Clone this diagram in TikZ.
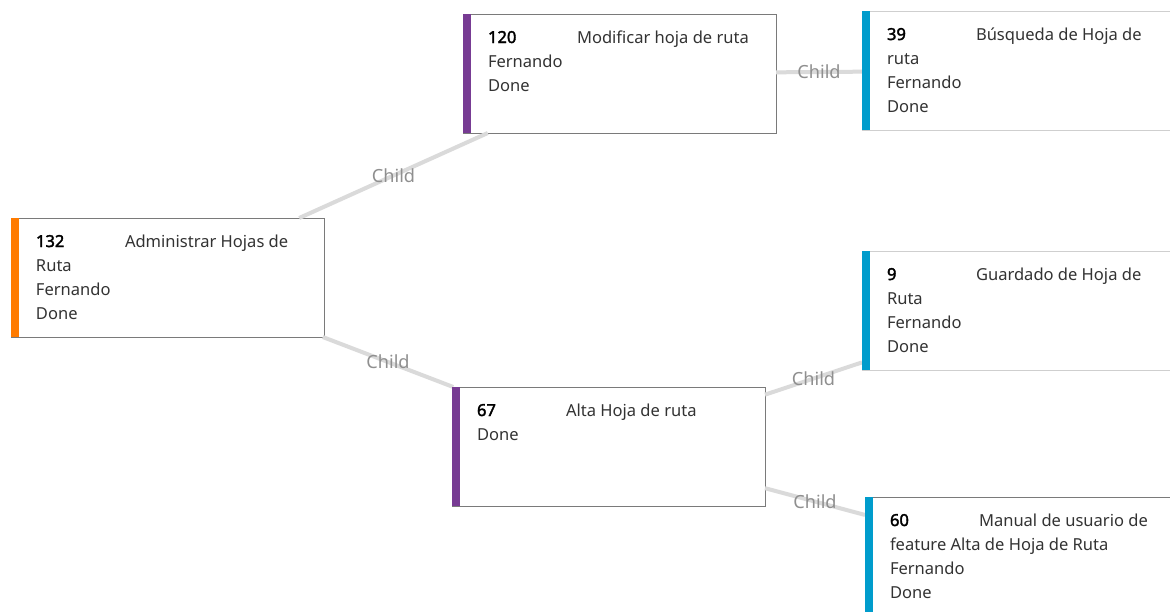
\documentclass[tikz,border=0pt]{standalone}
\usepackage{fontspec}
\setmainfont{Noto Sans}
\newfontfamily\idfont{Noto Sans}[FakeBold=2.2]
\usetikzlibrary{calc}
\definecolor{edgegray}{HTML}{DADADA}
\definecolor{labelgray}{HTML}{8F8F8F}
\definecolor{txtgray}{HTML}{333333}
\definecolor{bordgray}{HTML}{7A7A7A}
\definecolor{lightbord}{HTML}{CFCFCF}
\definecolor{epicorange}{HTML}{FF7B00}
\definecolor{featpurple}{HTML}{773B93}
\definecolor{storyblue}{HTML}{009CCC}
\tikzset{
  card/.style={draw=bordgray, line width=0.75pt, fill=white, rectangle, anchor=north west,
     minimum width=313*0.75pt, minimum height=119*0.75pt, inner sep=0pt, outer sep=0pt},
  lightcard/.style={card, draw=lightbord},
  txt/.style={inner sep=0pt, outer sep=0pt, text=txtgray, font=\fontsize{12.4}{14}\selectfont},
  idtxt/.style={txt, text=black, font=\idfont\fontsize{12.4}{14}\selectfont},
  link/.style={draw=edgegray, line width=3pt},
  linklabel/.style={text=labelgray, font=\fontsize{13.6}{15}\selectfont, inner sep=0pt}
}
\newcommand\cardline[3]{\node[txt, anchor=base west] at ($(#1.north west)+(25,29+24*#2)$) {#3};}
\newcommand\cardid[2]{\node[idtxt, anchor=base west] at ($(#1.north west)+(25,29)$) {#2};}
\newcommand\cardtitle[2]{\node[txt, anchor=base west] at ($(#1.north west)+(114,29)$) {#2};}
\newcommand\cardaccent[2]{\fill[#2] (#1.north west) rectangle ($(#1.south west)+(8,0)$);}
\begin{document}
\begin{tikzpicture}[x=0.75pt, y=-0.75pt]
\useasboundingbox (0,0) rectangle (1170,611);
\clip (0,0) rectangle (1170,611);
\fill[white] (0,0) rectangle (1170,611);

% cards
\node[card] (c132) at (11,218) {};
\node[card] (c120) at (463,14) {};
\node[lightcard] (c39) at (862,11) {};
\node[lightcard] (c9) at (862,251) {};
\node[card] (c67) at (452,387) {};
\node[card] (c60) at (865,497) {};

% connectors
\draw[link] (c132) -- node[linklabel]{Child} (c120);
\draw[link] (c132) -- node[linklabel]{Child} (c67);
\draw[link] (c120) -- node[linklabel]{Child} (c39);
\draw[link] (c67) -- node[linklabel]{Child} (c9);
\draw[link] (c67) -- node[linklabel]{Child} (c60);

% accents
\cardaccent{c132}{epicorange}
\cardaccent{c120}{featpurple}
\cardaccent{c39}{storyblue}
\cardaccent{c9}{storyblue}
\cardaccent{c67}{featpurple}
\cardaccent{c60}{storyblue}

% texts
\cardid{c132}{132}\cardtitle{c132}{Administrar Hojas de}
\cardline{c132}{1}{Ruta}\cardline{c132}{2}{Fernando}\cardline{c132}{3}{Done}

\cardid{c120}{120}\cardtitle{c120}{Modificar hoja de ruta}
\cardline{c120}{1}{Fernando}\cardline{c120}{2}{Done}

\cardid{c39}{39}\cardtitle{c39}{Búsqueda de Hoja de}
\cardline{c39}{1}{ruta}\cardline{c39}{2}{Fernando}\cardline{c39}{3}{Done}

\cardid{c9}{9}\cardtitle{c9}{Guardado de Hoja de}
\cardline{c9}{1}{Ruta}\cardline{c9}{2}{Fernando}\cardline{c9}{3}{Done}

\cardid{c67}{67}\cardtitle{c67}{Alta Hoja de ruta}
\cardline{c67}{1}{Done}

\cardid{c60}{60}\cardtitle{c60}{Manual de usuario de}
\cardline{c60}{1}{feature Alta de Hoja de Ruta}\cardline{c60}{2}{Fernando}\cardline{c60}{3}{Done}
\end{tikzpicture}
\end{document}
